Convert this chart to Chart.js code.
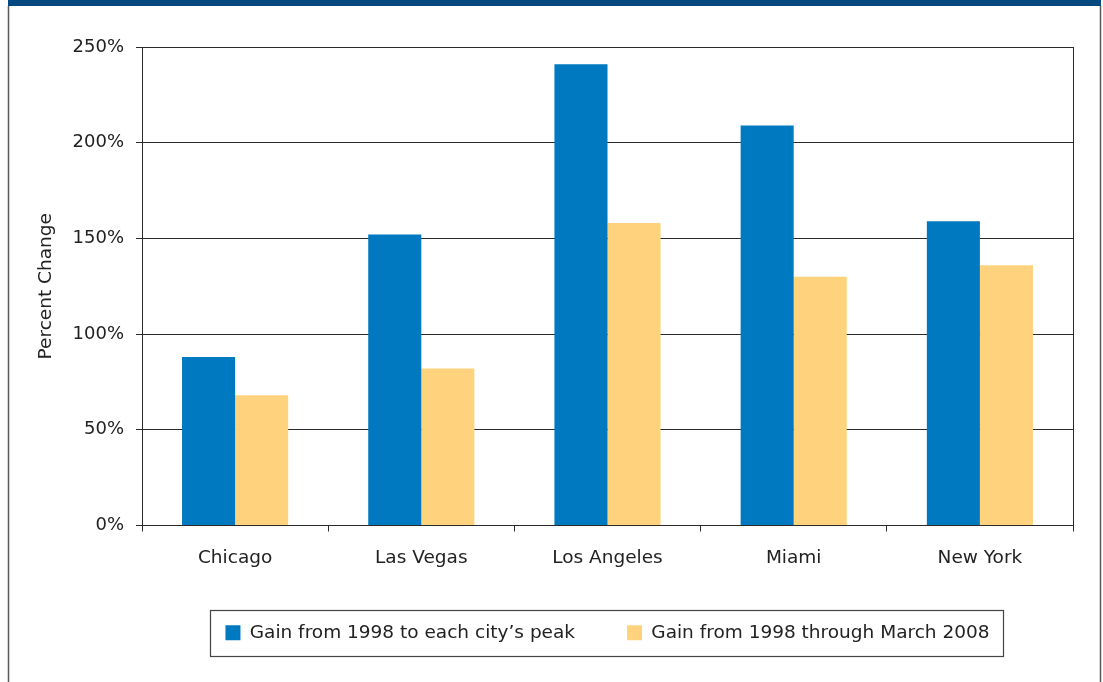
<!DOCTYPE html>
<html>
<head>
<meta charset="utf-8">
<script src="https://cdn.jsdelivr.net/npm/chart.js@4.4.1/dist/chart.umd.min.js"></script>
<style>
  html, body { margin: 0; padding: 0; background: #ffffff; }
  #wrap { width: 1103px; height: 682px; position: relative; }
</style>
</head>
<body>
<div id="wrap"><canvas id="c" width="1103" height="682"></canvas></div>
<script>
const categories = ["Chicago", "Las Vegas", "Los Angeles", "Miami", "New York"];
const peakGain = [88, 152, 241, 209, 159];
const march2008Gain = [68, 82, 158, 130, 136];
const seriesNames = ["Gain from 1998 to each city\u2019s peak", "Gain from 1998 through March 2008"];
const yTicks = [0, 50, 100, 150, 200, 250];

const FONT = "'DejaVu Sans', sans-serif";
const TEXT = "#222222";
const LINE = "#2a2a2a";

const framePlugin = {
  id: 'frame',
  beforeDraw(chart) {
    const ctx = chart.ctx;
    ctx.save();
    ctx.fillStyle = '#ffffff';
    ctx.fillRect(0, 0, chart.width, chart.height);
    ctx.fillStyle = '#03487f';
    ctx.fillRect(8, 0, 1093, 6);
    ctx.strokeStyle = '#5a5a5a';
    ctx.lineWidth = 1.5;
    ctx.beginPath();
    ctx.moveTo(8.5, 6); ctx.lineTo(8.5, chart.height);
    ctx.moveTo(1100.5, 6); ctx.lineTo(1100.5, chart.height);
    ctx.stroke();
    ctx.restore();
  },
  afterDraw(chart) {
    const ctx = chart.ctx;
    const a = chart.chartArea;
    ctx.save();
    ctx.strokeStyle = LINE;
    ctx.lineWidth = 1;
    ctx.beginPath();
    ctx.moveTo(Math.round(a.right) + 0.5, a.top);
    ctx.lineTo(Math.round(a.right) + 0.5, a.bottom);
    ctx.stroke();
    // legend frame
    const hb = chart.legend.legendHitBoxes;
    if (hb && hb.length) {
      const first = hb[0], last = hb[hb.length - 1];
      const left = Math.round(first.left - 15) + 0.5;
      const right = Math.round(last.left + last.width + 13) + 0.5;
      const top = Math.round(first.top - 14) + 0.5;
      const bottom = Math.round(first.top + first.height + 14) + 0.5;
      ctx.strokeStyle = '#444444';
      ctx.lineWidth = 1.2;
      ctx.strokeRect(left, top, right - left, bottom - top);
    }
    ctx.restore();
  }
};

new Chart(document.getElementById('c'), {
  type: 'bar',
  data: {
    labels: categories,
    datasets: [
      { label: seriesNames[0], data: peakGain, backgroundColor: '#0079c1', borderWidth: 0 },
      { label: seriesNames[1], data: march2008Gain, backgroundColor: '#ffd37d', borderWidth: 0 }
    ]
  },
  options: {
    responsive: false,
    devicePixelRatio: 1,
    animation: false,
    events: [],
    categoryPercentage: 0.57,
    barPercentage: 1.0,
    layout: { padding: { left: 9, right: 30, top: 47, bottom: 30 } },
    plugins: {
      tooltip: { enabled: false },
      legend: {
        position: 'bottom',
        fullSize: false,
        labels: {
          boxWidth: 15,
          boxHeight: 15,
          padding: 52,
          color: TEXT,
          font: { family: FONT, size: 18.5 }
        }
      }
    },
    scales: {
      x: {
        grid: { display: true, offset: true, drawOnChartArea: false, drawTicks: true, tickLength: 6, color: LINE, lineWidth: 1 },
        border: { display: true, color: LINE, width: 1 },
        ticks: { color: TEXT, font: { family: FONT, size: 18.5 }, padding: 16, maxRotation: 0 },
        afterFit(scale) { scale.height = 46; }
      },
      y: {
        min: 0,
        max: 250,
        afterBuildTicks(scale) { scale.ticks = yTicks.map(v => ({ value: v })); },
        grid: { display: true, drawTicks: true, tickLength: 6, color: LINE, lineWidth: 1 },
        border: { display: true, color: LINE, width: 1 },
        ticks: { color: TEXT, font: { family: FONT, size: 18 }, padding: 12, callback: v => v + '%' },
        title: { display: true, text: 'Percent Change', color: TEXT, font: { family: FONT, size: 18.5 }, padding: { top: 26, bottom: 0 } },
        afterFit(scale) { scale.width = 133; }
      }
    }
  },
  plugins: [framePlugin]
});
</script>
</body>
</html>
